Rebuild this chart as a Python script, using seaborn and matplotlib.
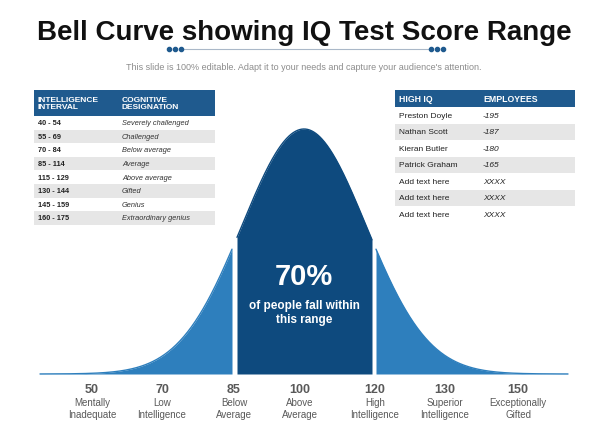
import numpy as np
import pandas as pd
import matplotlib
matplotlib.use("Agg")
import matplotlib.pyplot as plt
import seaborn as sns

sns.set_style("white")
plt.rcParams['font.family'] = ['Liberation Sans', 'DejaVu Sans']

title = "Bell Curve showing IQ Test Score Range"
subtitle = "This slide is 100% editable. Adapt it to your needs and capture your audience's attention."
interval_ranges = ["40 - 54", "55 - 69", "70 - 84", "85 - 114", "115 - 129", "130 - 144", "145 - 159", "160 - 175"]
designations = ["Severely challenged", "Challenged", "Below average", "Average", "Above average",
                "Gifted", "Genius", "Extraordinary genius"]
high_iq_names = ["Preston Doyle", "Nathan Scott", "Kieran Butler", "Patrick Graham",
                 "Add text here", "Add text here", "Add text here"]
employees = ["-195", "-187", "-180", "-165", "XXXX", "XXXX", "XXXX"]
score_values = ["50", "70", "85", "100", "120", "130", "150"]
score_labels = ["Mentally\nInadequate", "Low\nIntelligence", "Below\nAverage", "Above\nAverage",
                "High\nIntelligence", "Superior\nIntelligence", "Exceptionally\nGifted"]
score_pos = [92, 162, 234, 300, 375, 445, 518]
center_pct = "70%"
center_text = "of people fall within\nthis range"

W, H = 608, 431
fig = plt.figure(figsize=(6.08, 4.31), dpi=100)
ax = fig.add_axes([0, 0, 1, 1])
ax.set_xlim(0, W); ax.set_ylim(H, 0); ax.axis("off")

light, dark = "#2e7fbd", "#0e4a7e"
base, peak, mu, sd = 375, 245, 304, 62
def bell(x):
    return base - peak * np.exp(-0.5 * ((x - mu) / sd) ** 2)
segs = [(40, 232, light), (237, 372, dark), (376, 568, light)]
for a, b, c in segs:
    xs = np.linspace(a, b, 200)
    df = pd.DataFrame({"x": xs, "y": bell(xs)})
    sns.lineplot(data=df, x="x", y="y", ax=ax, color=c, lw=1)
    ax.fill_between(xs, bell(xs), base, color=c, lw=0)

ax.text(304, 33, title, ha="center", va="center", fontsize=20, fontweight="bold",
        family=["Liberation Sans Narrow", "Liberation Sans"], color="#111111")
ax.plot([180, 432], [50, 50], color="#aab8c8", lw=0.8)
for cx in (175, 437):
    for d in (-6, 0, 6):
        ax.plot(cx + d, 50, "o", color="#1f5a8e", ms=3)
ax.text(304, 67, subtitle, ha="center", va="center", fontsize=6.5, color="#8c8c8c")

hdr = "#1f5a8e"
# left table
ax.add_patch(plt.Rectangle((34, 91), 181, 26, color=hdr, lw=0))
ax.text(38, 104, "INTELLIGENCE\nINTERVAL", color="white", fontsize=6, fontweight="bold", va="center", linespacing=1.1)
ax.text(122, 104, "COGNITIVE\nDESIGNATION", color="white", fontsize=6, fontweight="bold", va="center", linespacing=1.1)
rh = 13.6
for i, (r, d) in enumerate(zip(interval_ranges, designations)):
    y0 = 117 + i * rh
    if i % 2 == 1:
        ax.add_patch(plt.Rectangle((34, y0), 181, rh, color="#e6e6e6", lw=0))
    ax.text(38, y0 + rh / 2, r, fontsize=5.3, fontweight="bold", va="center", color="#222222")
    ax.text(122, y0 + rh / 2, d, fontsize=5.3, style="italic", va="center", color="#333333")
# right table
ax.add_patch(plt.Rectangle((395, 91), 180, 17, color=hdr, lw=0))
ax.text(399, 99.5, "HIGH IQ", color="white", fontsize=6.3, fontweight="bold", va="center")
ax.text(483, 99.5, "EMPLOYEES", color="white", fontsize=6.3, fontweight="bold", va="center")
rh2 = 16.5
for i, (n, e) in enumerate(zip(high_iq_names, employees)):
    y0 = 108 + i * rh2
    if i % 2 == 1:
        ax.add_patch(plt.Rectangle((395, y0), 180, rh2, color="#e6e6e6", lw=0))
    ax.text(399, y0 + rh2 / 2, n, fontsize=6, va="center", color="#222222")
    ax.text(483, y0 + rh2 / 2, e, fontsize=6, style="italic", va="center", color="#222222")

ax.text(304, 277, center_pct, ha="center", va="center", fontsize=21, fontweight="bold", color="white")
ax.text(304, 313, center_text, ha="center", va="center", fontsize=8.5, fontweight="bold",
        color="white", linespacing=1.3)

for p, v, l in zip(score_pos, score_values, score_labels):
    ax.text(p, 390, v, ha="center", va="center", fontsize=9, fontweight="bold", color="#595959")
    ax.text(p, 409, l, ha="center", va="center", fontsize=7, color="#595959", linespacing=1.15)

fig.savefig("out.png", dpi=100)
